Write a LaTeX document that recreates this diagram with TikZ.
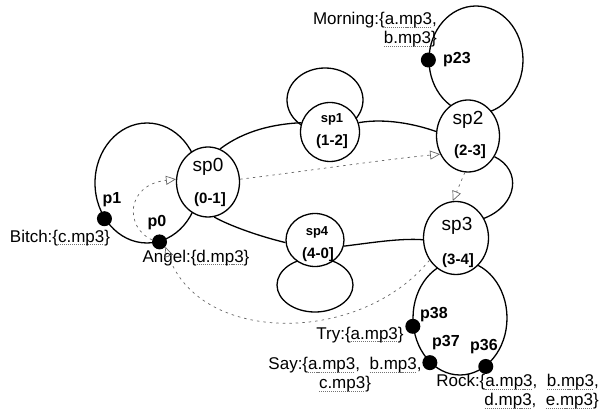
\documentclass[tikz,border=0pt]{standalone}
\usepackage{fontspec}
\setmainfont{Liberation Sans}
\usetikzlibrary{shapes.geometric,arrows.meta}
\newsavebox\dubox
\newcommand\du[1]{\leavevmode\sbox\dubox{#1}\rlap{\raisebox{-2.8pt}{\hbox to \wd\dubox{\color{black!55}\xleaders\hbox{\rule{1.1pt}{0.9pt}\kern0.9pt}\hfil}}}\usebox\dubox}
\begin{document}
\begin{tikzpicture}[x=1pt,y=-1pt,
  loope/.style={draw, ellipse, line width=1.3pt, inner sep=0pt},
  state/.style={draw, ellipse, line width=1.3pt, fill=white, inner sep=0pt},
  dot/.style={circle, fill=black, minimum size=15pt, inner sep=0pt},
  edge/.style={line width=1.3pt},
  flow/.style={draw=black!60, line width=0.7pt, dash pattern=on 2.5pt off 4pt, -{Triangle[open, length=10pt, width=9pt]}},
  big/.style={font=\fontsize{19}{19}\selectfont, inner sep=0pt},
  bsmall/.style={font=\fontsize{13}{13}\selectfont\bfseries, inner sep=0pt},
  brange/.style={font=\fontsize{15}{15}\selectfont\bfseries, inner sep=0pt},
  plabel/.style={font=\fontsize{16}{16}\selectfont\bfseries, inner sep=0pt},
  lbl/.style={font=\fontsize{17}{19}\selectfont, inner sep=0pt}
]
\useasboundingbox (0,0) rectangle (599,411);
% self loops
\node[loope, minimum width=104pt, minimum height=120pt] (l0) at (147,183) {};
\node[loope, minimum width=76pt, minimum height=64pt] (l1) at (325,100) {};
\node[loope, minimum width=94pt, minimum height=108pt] (l2) at (476,60) {};
\node[loope, minimum width=94pt, minimum height=114pt] (l3) at (460,318) {};
\node[loope, minimum width=76pt, minimum height=54pt] (l4) at (315,285) {};
% states
\node[state, minimum width=63pt, minimum height=70pt] (sp0) at (208,182) {};
\node[state, minimum width=59pt, minimum height=59pt] (sp1) at (330,132) {};
\node[state, minimum width=63pt, minimum height=72pt] (sp2) at (468,136) {};
\node[state, minimum width=65pt, minimum height=73pt] (sp3) at (456,238) {};
\node[state, minimum width=58pt, minimum height=53pt] (sp4) at (315,240) {};
% state texts
\node[big] (t0a) at (208,167) {sp0};
\node[brange] (t0b) at (210,200) {(0-1]};
\node[bsmall] (t1a) at (332,119) {sp1};
\node[brange] (t1b) at (332,142) {(1-2]};
\node[big] (t2a) at (468,120) {sp2};
\node[brange] (t2b) at (470,152) {(2-3]};
\node[big] (t3a) at (457,226) {sp3};
\node[brange] (t3b) at (458,261) {(3-4]};
\node[bsmall] (t4a) at (317,232) {sp4};
\node[brange] (t4b) at (318,255) {(4-0]};
% edges
\draw[edge] (sp0.70) .. controls (245,130) and (275,124) .. (sp1.162);
\draw[edge] (sp1.18) .. controls (385,118) and (415,124) .. (sp2.172);
\draw[edge] (sp0.-80) .. controls (228,225) and (258,236) .. (sp4.185);
\draw[edge] (sp4.-12) .. controls (370,243) and (400,238) .. (sp3.183);
\draw[edge] (sp2.-38) .. controls (522,170) and (518,205) .. (sp3.35);
% points
\node[dot] (p1) at (l0.220) {};
\node[dot] (p0) at (l0.282) {};
\node[dot] (p23) at (l2.180) {};
\node[dot] (p38) at (l3.190) {};
\node[dot] (p37) at (l3.236) {};
\node[dot] (p36) at (l3.298) {};
\node[plabel] (lp1) at (112,200) {p1};
\node[plabel] (lp0) at (157,223) {p0};
\node[plabel] (lp23) at (457,60) {p23};
\node[plabel] (lp38) at (434,315) {p38};
\node[plabel] (lp37) at (446,343) {p37};
\node[plabel] (lp36) at (484,347) {p36};
% labels
\node[lbl] (bitch) at (60,238) {Bitch:\{\du{c.mp3}\}};
\node[lbl] (angel) at (196,258) {Angel:\{\du{d.mp3}\}};
\node[lbl, align=right, anchor=east] (morning) at (437,30) {Morning:\{\du{a.mp3},\\\du{b.mp3}\}};
\node[lbl] (try) at (360,335) {Try:\{\du{a.mp3}\}};
\node[lbl, align=center] (say) at (345,375) {Say:\{\du{a.mp3},\ \ \du{b.mp3},\\\du{c.mp3}\}};
\node[lbl, align=right, anchor=east] (rock) at (599,392) {Rock:\{\du{a.mp3},\ \ \du{b.mp3},\\\du{d.mp3},\ \ \du{e.mp3}\}};
% flows
\draw[flow] (sp0.5) .. controls (300,172) and (380,160) .. (sp2.213);
\draw[flow] (sp2.265) -- (sp3.95);
\draw[flow] (sp3.220) .. controls (360,345) and (200,345) .. (p0.-40);
\draw[flow] (p0.165) .. controls (125,228) and (125,185) .. (sp0.175);
\end{tikzpicture}
\end{document}
